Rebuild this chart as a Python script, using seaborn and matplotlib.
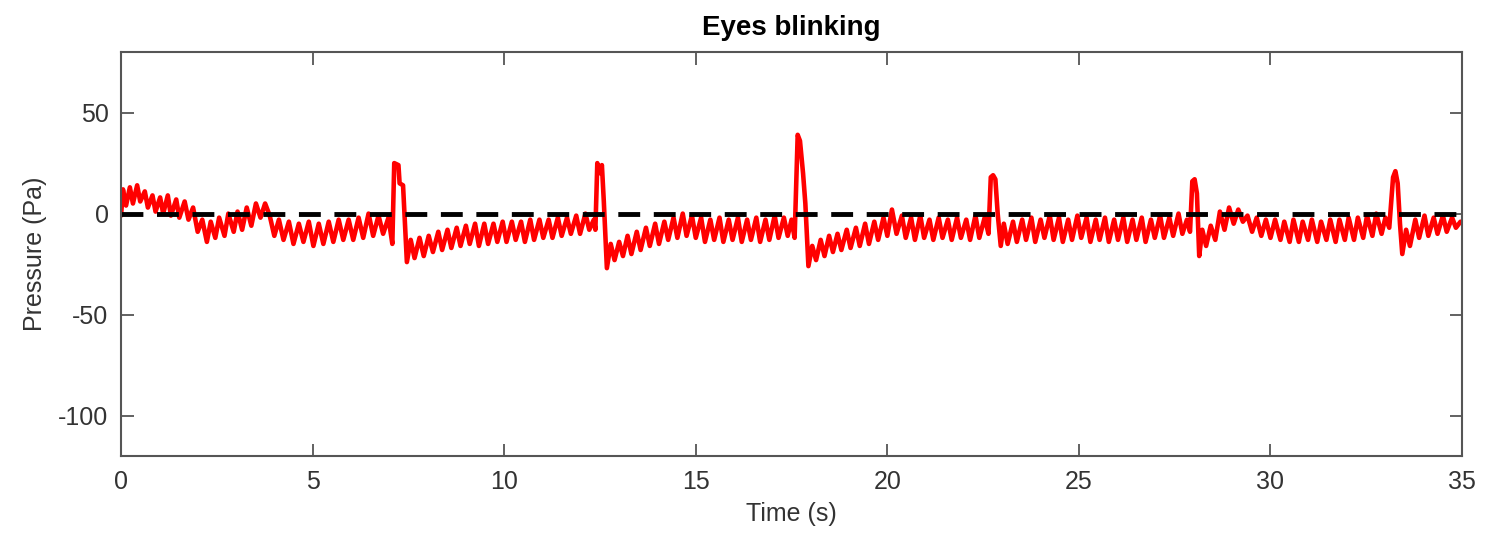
import numpy as np
import pandas as pd
import matplotlib
matplotlib.use('Agg')
import matplotlib.pyplot as plt
import seaborn as sns

# pressure trace, split per blink
t_a = [0.00, 0.05, 0.13, 0.23, 0.31, 0.42, 0.50, 0.62, 0.70, 0.82,
       0.90, 1.02, 1.10, 1.22, 1.30, 1.44, 1.52, 1.66, 1.76, 1.88,
       2.00, 2.12, 2.24, 2.34, 2.46, 2.56, 2.70, 2.80, 2.94, 3.04,
       3.16, 3.28, 3.40, 3.52, 3.64, 3.76, 3.88, 4.00, 4.12, 4.24,
       4.38, 4.50, 4.64, 4.76, 4.90, 5.02, 5.16, 5.28, 5.42, 5.54,
       5.68, 5.80, 5.94, 6.06, 6.20, 6.32, 6.46, 6.58, 6.72, 6.84,
       6.98, 7.08, 7.13, 7.24, 7.27, 7.36, 7.46]
p_a = [-1, 12, 4, 13, 5, 14, 6, 11, 3, 9,
       1, 8, 0, 9, -1, 7, -2, 6, -3, 3,
       -9, -3, -14, -4, -12, -2, -11, 0, -9, 1,
       -8, 3, -6, 5, -2, 5, -1, -11, -3, -13,
       -4, -15, -5, -14, -4, -16, -5, -15, -4, -14,
       -3, -13, -3, -13, -2, -12, 0, -11, -1, -10,
       -2, -15, 25, 24, 15, 14, -24]

t_b = [7.56, 7.66, 7.79, 7.90, 8.03, 8.14, 8.28, 8.38, 8.52, 8.62,
       8.76, 8.86, 9.00, 9.10, 9.24, 9.34, 9.48, 9.58, 9.72, 9.82,
       9.96, 10.06, 10.20, 10.30, 10.44, 10.54, 10.68, 10.78, 10.92, 11.02,
       11.16, 11.26, 11.40, 11.50, 11.64, 11.74, 11.88, 11.98, 12.12, 12.22,
       12.34, 12.38, 12.43, 12.50, 12.55, 12.60, 12.68]
p_b = [-13, -22, -12, -21, -11, -19, -9, -18, -8, -17,
       -7, -16, -6, -15, -5, -16, -5, -15, -5, -14,
       -4, -14, -4, -13, -4, -14, -3, -13, -3, -12,
       -3, -12, -2, -11, -2, -10, -1, -10, 0, -8,
       -3, -8, 25, 20, 24, 6, -27]

t_c = [12.78, 12.88, 13.00, 13.10, 13.22, 13.32, 13.46, 13.56, 13.70, 13.80,
       13.94, 14.04, 14.18, 14.28, 14.42, 14.52, 14.66, 14.76, 14.90, 15.00,
       15.14, 15.24, 15.38, 15.48, 15.62, 15.72, 15.86, 15.96, 16.10, 16.20,
       16.34, 16.44, 16.58, 16.68, 16.82, 16.92, 17.06, 17.16, 17.30, 17.40,
       17.50, 17.58, 17.66, 17.72, 17.80, 17.86, 17.94]
p_c = [-15, -23, -14, -21, -11, -20, -9, -18, -7, -16,
       -5, -15, -4, -13, -2, -12, 0, -11, -1, -12,
       -2, -14, -3, -13, -2, -14, -3, -13, -2, -14,
       -3, -13, -2, -14, -3, -13, -1, -12, -2, -11,
       -3, -12, 39, 36, 20, 5, -26]

t_d = [18.04, 18.14, 18.26, 18.36, 18.48, 18.58, 18.70, 18.80, 18.94, 19.04,
       19.18, 19.28, 19.42, 19.52, 19.66, 19.76, 19.90, 20.00, 20.12, 20.24,
       20.38, 20.48, 20.62, 20.72, 20.86, 20.96, 21.10, 21.20, 21.34, 21.44,
       21.58, 21.68, 21.82, 21.92, 22.06, 22.16, 22.30, 22.40, 22.54, 22.64,
       22.70, 22.76, 22.82, 22.88, 22.96, 23.04]
p_d = [-16, -23, -13, -21, -11, -19, -10, -18, -8, -17,
       -7, -16, -5, -15, -4, -13, -2, -11, 2, -10,
       -1, -12, -2, -13, -1, -12, -3, -13, -2, -12,
       -3, -13, -2, -12, -3, -13, -1, -12, -2, -10,
       18, 19, 17, 0, -16, -5]

t_e = [23.14, 23.28, 23.38, 23.52, 23.62, 23.76, 23.86, 24.00, 24.10, 24.24,
       24.34, 24.48, 24.58, 24.72, 24.82, 24.96, 25.06, 25.20, 25.30, 25.44,
       25.54, 25.68, 25.78, 25.92, 26.02, 26.16, 26.26, 26.40, 26.50, 26.64,
       26.74, 26.88, 26.98, 27.12, 27.22, 27.36, 27.46, 27.60, 27.70, 27.82,
       27.90, 27.96, 28.02, 28.08, 28.14, 28.22]
p_e = [-15, -4, -14, -3, -13, -2, -14, -3, -12, -1,
       -13, -2, -14, -3, -13, -1, -12, -2, -14, -3,
       -13, -2, -14, -3, -13, -2, -14, -3, -13, -2,
       -14, -3, -12, -1, -12, -2, -11, 0, -10, -3,
       -9, 16, 17, 10, -21, -8]

t_f = [28.32, 28.44, 28.56, 28.68, 28.80, 28.92, 29.04, 29.16, 29.28, 29.40,
       29.52, 29.64, 29.76, 29.88, 30.00, 30.12, 30.26, 30.36, 30.50, 30.60,
       30.74, 30.84, 30.98, 31.08, 31.22, 31.32, 31.46, 31.56, 31.70, 31.80,
       31.94, 32.04, 32.18, 32.28, 32.42, 32.52, 32.66, 32.76, 32.90, 33.00,
       33.10, 33.20, 33.26, 33.32, 33.38, 33.44]
p_f = [-16, -6, -13, 1, -8, 3, -5, 2, -4, -1,
       -9, -2, -11, -3, -12, -3, -13, -4, -14, -3,
       -14, -4, -13, -3, -14, -4, -13, -3, -14, -3,
       -13, -2, -13, -2, -12, -1, -11, 0, -10, -2,
       -7, 18, 21, 15, -5, -20]

t_g = [33.54, 33.64, 33.78, 33.88, 34.02, 34.12, 34.26, 34.36, 34.50, 34.60,
       34.74, 34.84, 34.96]
p_g = [-8, -16, -3, -12, -1, -11, -2, -10, -1, -9,
       -2, -7, -4]

zero_t = [0, 35]
zero_p = [0, 0]

df = pd.DataFrame({'Time': t_a + t_b + t_c + t_d + t_e + t_f + t_g,
                   'Pressure': p_a + p_b + p_c + p_d + p_e + p_f + p_g})
ref = pd.DataFrame({'Time': zero_t, 'Pressure': zero_p})

sns.set_style('white')
plt.rcParams['font.family'] = ['Liberation Sans', 'DejaVu Sans']
plt.rcParams['axes.unicode_minus'] = False

fig = plt.figure(figsize=(14.89, 5.39), dpi=100)
ax = fig.add_axes([0.0813, 0.154, 0.9006, 0.7495])

sns.lineplot(data=df, x='Time', y='Pressure', color='#ff0000', linewidth=3.3, ax=ax, sort=False)
sns.lineplot(data=ref, x='Time', y='Pressure', color='black', linewidth=3.5, linestyle=(0, (4.5, 2.8)), ax=ax)

ax.set_xlim(0, 35)
ax.set_ylim(-120, 80)
ax.set_xticks([0, 5, 10, 15, 20, 25, 30, 35])
ax.set_yticks([-100, -50, 0, 50])

for s in ax.spines.values():
    s.set_color('#555555')
    s.set_linewidth(1.5)
ax.tick_params(direction='in', length=9, width=1.3, color='#555555', labelcolor='#333333',
               labelsize=18, top=True, right=True, bottom=True, left=True)
ax.tick_params(axis='x', pad=10)
ax.tick_params(axis='y', pad=9)

ax.set_xlabel('Time (s)', fontsize=18, color='#333333', labelpad=6)
ax.set_ylabel('Pressure (Pa)', fontsize=18, color='#333333', labelpad=8)
ax.set_title('Eyes blinking', fontsize=20, fontweight='bold', color='black', pad=12)

fig.savefig('out.png', dpi=100)
